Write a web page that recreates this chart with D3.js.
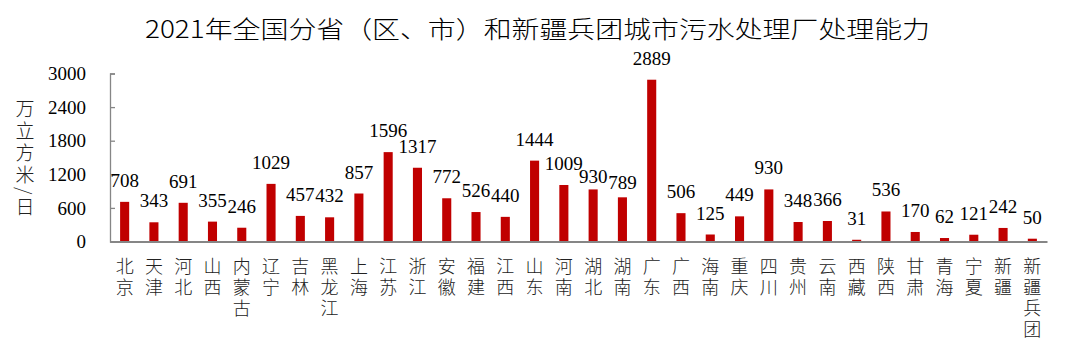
<!DOCTYPE html>
<html><head><meta charset="utf-8">
<script src="https://cdn.jsdelivr.net/npm/d3@7/dist/d3.min.js"></script>
<style>
html,body{margin:0;padding:0;background:#fff;}
svg{display:block;}
</style></head>
<body>
<svg id="chart" width="1080" height="357"></svg>
<script>
const categories = ["北京","天津","河北","山西","内蒙古","辽宁","吉林","黑龙江","上海","江苏","浙江","安徽","福建","江西","山东","河南","湖北","湖南","广东","广西","海南","重庆","四川","贵州","云南","西藏","陕西","甘肃","青海","宁夏","新疆","新疆兵团"];
const values = [708,343,691,355,246,1029,457,432,857,1596,1317,772,526,440,1444,1009,930,789,2889,506,125,449,930,348,366,31,536,170,62,121,242,50];
const yTicks = [0,600,1200,1800,2400,3000];
const title = "2021年全国分省（区、市）和新疆兵团城市污水处理厂处理能力";
const yLabel = "万立方米/日";
// small label nudges (layout only) to avoid overlaps, as in the original
const labelNudge = {"湖北": 9, "湖南": 7};

const svg = d3.select("#chart");
const serif = "'Liberation Serif','Times New Roman','Noto Sans CJK SC',serif";
const cjk = "'Noto Sans CJK SC','Liberation Serif',sans-serif";
const axisColor = "#868686";
const barColor = "#c00000";

const plotLeft = 110, plotRight = 1047, plotTop = 73.5, plotBottom = 241.5;
const x = d3.scaleBand().domain(categories).range([plotLeft, plotRight]).paddingInner(0.69).paddingOuter(0.345);
const y = d3.scaleLinear().domain([0, 3000]).range([plotBottom, plotTop]);

// title
svg.append("text")
  .attr("x", 145).attr("y", 38)
  .attr("textLength", 785).attr("lengthAdjust", "spacingAndGlyphs")
  .style("font-family", cjk).style("font-size", "24px").style("font-weight", 300).attr("fill", "#000")
  .text(title);

// y axis
const yAxis = d3.axisRight(y).tickValues(yTicks).tickSize(5).tickFormat("");
const gy = svg.append("g").attr("transform", `translate(${plotLeft},0)`).call(yAxis);
gy.select(".domain").attr("stroke", axisColor).attr("stroke-width", 1.3);
gy.selectAll(".tick line").attr("stroke", axisColor).attr("stroke-width", 1.3);

svg.append("g").selectAll("text").data(yTicks).join("text")
  .attr("x", 86).attr("y", d => y(d)).attr("dy", "0.35em")
  .attr("text-anchor", "end")
  .style("font-family", serif).style("font-size", "19px").attr("fill", "#000")
  .text(d => d);

// y label (vertical)
svg.append("text")
  .attr("x", 25).attr("y", 99)
  .attr("writing-mode", "tb")
  .style("writing-mode", "vertical-rl")
  .style("font-family", cjk).style("font-size", "19px").style("font-weight", 300).style("letter-spacing", "3px")
  .attr("fill", "#222")
  .text(yLabel);

// bars
svg.append("g").selectAll("rect").data(values).join("rect")
  .attr("x", (d, i) => x(categories[i]))
  .attr("width", x.bandwidth())
  .attr("y", d => y(d))
  .attr("height", d => y(0) - y(d))
  .attr("fill", barColor);

// x axis
const xAxis = d3.axisBottom(x).tickSize(0).tickFormat("");
const gx = svg.append("g").attr("transform", `translate(0,${plotBottom})`).call(xAxis);
gx.select(".domain").attr("stroke", axisColor).attr("stroke-width", 2);

// value labels
svg.append("g").selectAll("text").data(values).join("text")
  .attr("x", (d, i) => x(categories[i]) + x.bandwidth() / 2)
  .attr("y", (d, i) => y(d) - 15 + (labelNudge[categories[i]] || 0))
  .attr("text-anchor", "middle")
  .style("font-family", serif).style("font-size", "19px").attr("fill", "#000")
  .text(d => d);

// category labels (vertical, one column per category)
svg.append("g").selectAll("text").data(categories).join("text")
  .attr("x", d => x(d) + x.bandwidth() / 2)
  .attr("y", 257)
  .attr("writing-mode", "tb")
  .style("writing-mode", "vertical-rl")
  .style("font-family", cjk).style("font-size", "18px").style("font-weight", 300).style("letter-spacing", "3px")
  .attr("fill", "#222")
  .text(d => d);
</script>
</body></html>
